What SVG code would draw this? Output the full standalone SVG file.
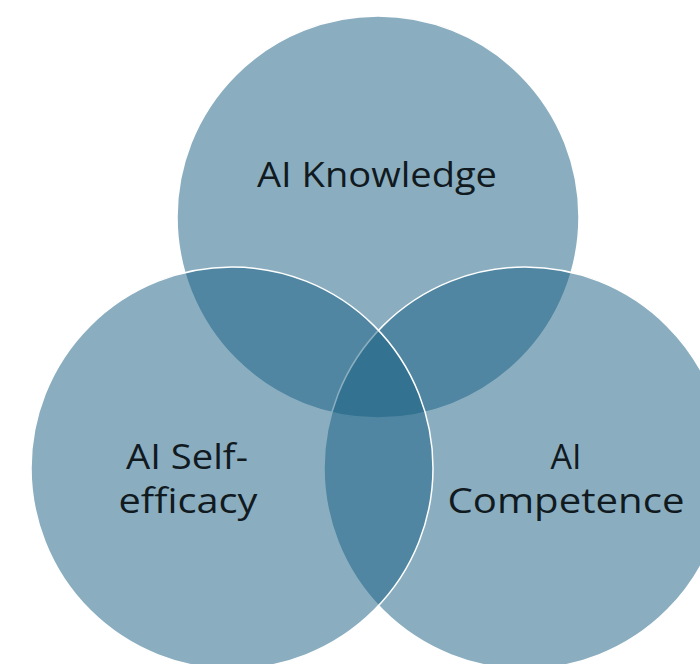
<svg xmlns="http://www.w3.org/2000/svg" width="700" height="664" viewBox="0 0 700 664">
<style>
.c{fill:#155d81;fill-opacity:0.5;stroke:#ffffff;stroke-width:1.5}
.t{font-family:"Open Sans","Noto Sans",sans-serif;font-size:34px;fill:#111a1f;text-anchor:middle}
</style>
<rect width="700" height="664" fill="#ffffff"/>
<g id="knowledge"><circle class="c" cx="378" cy="217" r="201"/></g>
<g id="competence"><circle class="c" cx="525" cy="468" r="201"/></g>
<g id="selfefficacy"><circle class="c" cx="232" cy="468" r="201"/></g>
<g id="labels">
<text class="t" x="377" y="187" textLength="240" lengthAdjust="spacingAndGlyphs">AI Knowledge</text>
<text class="t" x="187" y="469" textLength="122" lengthAdjust="spacingAndGlyphs">AI Self-</text>
<text class="t" x="188" y="513" textLength="139" lengthAdjust="spacingAndGlyphs">efficacy</text>
<text class="t" x="566" y="469" textLength="31" lengthAdjust="spacingAndGlyphs">AI</text>
<text class="t" x="566" y="513" textLength="237" lengthAdjust="spacingAndGlyphs">Competence</text>
</g>
<g id="connectors"/>
</svg>
